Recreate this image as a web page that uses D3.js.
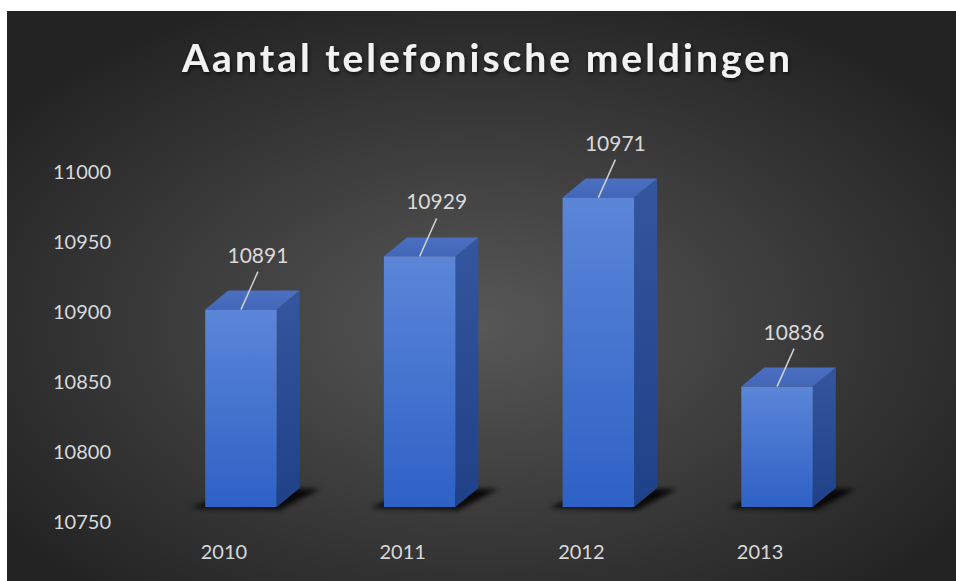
<!DOCTYPE html>
<html>
<head>
<meta charset="utf-8">
<script src="https://cdn.jsdelivr.net/npm/d3@7"></script>
<style>
  body { margin: 0; background: #fff; }
  text { font-family: Lato, "Open Sans", sans-serif; }
</style>
</head>
<body>
<svg id="chart" width="956" height="581"></svg>
<script>
const years = ["2010", "2011", "2012", "2013"];
const calls = [10891, 10929, 10971, 10836];
const yTicks = [10750, 10800, 10850, 10900, 10950, 11000];
const title = "Aantal telefonische meldingen";

const svg = d3.select('#chart');
const defs = svg.append('defs');

// background radial gradient
const bg = defs.append('radialGradient').attr('id', 'bg')
    .attr('cx', '50%').attr('cy', '55%').attr('r', '62%');
bg.append('stop').attr('offset', '0%').attr('stop-color', '#575757');
bg.append('stop').attr('offset', '100%').attr('stop-color', '#232323');

function vGrad(id, c1, c2) {
    const g = defs.append('linearGradient').attr('id', id)
        .attr('x1', 0).attr('y1', 0).attr('x2', 0).attr('y2', 1);
    g.append('stop').attr('offset', '0%').attr('stop-color', c1);
    g.append('stop').attr('offset', '100%').attr('stop-color', c2);
}
vGrad('front', '#5b86d8', '#2e61c6');
vGrad('side', '#34569f', '#1f4188');
vGrad('top', '#4b70c2', '#4267b8');

defs.append('filter').attr('id', 'blur').attr('x', '-50%').attr('y', '-50%')
    .attr('width', '200%').attr('height', '200%')
    .append('feGaussianBlur').attr('stdDeviation', 2.5);

const ts = defs.append('filter').attr('id', 'tshadow')
    .attr('x', '-10%').attr('y', '-30%').attr('width', '120%').attr('height', '160%');
ts.append('feDropShadow').attr('dx', 1).attr('dy', 2).attr('stdDeviation', 2)
    .attr('flood-color', '#000').attr('flood-opacity', 0.7);

svg.append('rect')
    .attr('x', 7).attr('y', 11).attr('width', 949).attr('height', 570)
    .attr('fill', 'url(#bg)');

// scales
const x = d3.scaleBand().domain(years).range([98, 920]).padding(0.6);
const y = d3.scaleLinear().domain([10750, 11000]).range([507, 157]);      // bar fronts
const yWall = d3.scaleLinear().domain([10750, 11000]).range([522, 172]);  // axis labels
const depth = { dx: 23, dy: -19 };
const bw = x.bandwidth();

// y axis
const yAxis = svg.append('g')
    .attr('transform', 'translate(111,0)')
    .call(d3.axisLeft(yWall).tickValues(yTicks).tickSize(0).tickPadding(0).tickFormat(d3.format('d')));
yAxis.select('.domain').remove();
yAxis.selectAll('text')
    .attr('fill', '#d9d9d9')
    .style('font-size', '20px')
    .style('font-family', 'Lato, "Open Sans", sans-serif');

// x axis (labels sit a bit left of the bar fronts, 3D projection)
const xAxis = svg.append('g')
    .attr('transform', 'translate(-17,545)')
    .call(d3.axisBottom(x).tickSize(0).tickPadding(0));
xAxis.select('.domain').remove();
xAxis.selectAll('text')
    .attr('fill', '#d9d9d9')
    .style('font-size', '20px')
    .style('font-family', 'Lato, "Open Sans", sans-serif');

const data = years.map((yr, i) => ({ year: yr, value: calls[i] }));
const base = y(10750);

const bars = svg.append('g').selectAll('g')
    .data(data)
    .join('g');

// floor shadow
bars.append('polygon')
    .attr('points', d => {
        const x0 = x(d.year);
        return [
            [x0 - 14, base + 1],
            [x0 + bw + 3, base + 3],
            [x0 + bw + depth.dx + 20, base + depth.dy + 1],
            [x0 + depth.dx + 10, base + depth.dy]
        ].join(' ');
    })
    .attr('fill', '#000')
    .attr('opacity', 0.85)
    .attr('filter', 'url(#blur)');

// side face
bars.append('polygon')
    .attr('points', d => {
        const x1 = x(d.year) + bw, t = y(d.value);
        return [[x1, t], [x1 + depth.dx, t + depth.dy], [x1 + depth.dx, base + depth.dy], [x1, base]].join(' ');
    })
    .attr('fill', 'url(#side)');

// top face
bars.append('polygon')
    .attr('points', d => {
        const x0 = x(d.year), t = y(d.value);
        return [[x0, t], [x0 + depth.dx, t + depth.dy], [x0 + bw + depth.dx, t + depth.dy], [x0 + bw, t]].join(' ');
    })
    .attr('fill', 'url(#top)');

// front face
bars.append('rect')
    .attr('x', d => x(d.year))
    .attr('y', d => y(d.value))
    .attr('width', bw)
    .attr('height', d => base - y(d.value))
    .attr('fill', 'url(#front)');

// leader lines + data labels
bars.append('line')
    .attr('x1', d => x(d.year) + bw / 2)
    .attr('y1', d => y(d.value))
    .attr('x2', d => x(d.year) + bw / 2 + 17)
    .attr('y2', d => y(d.value) - 38)
    .attr('stroke', '#d0d0d0')
    .attr('stroke-width', 1.5);

bars.append('text')
    .attr('x', d => x(d.year) + bw / 2 + 17)
    .attr('y', d => y(d.value) - 47)
    .attr('text-anchor', 'middle')
    .attr('fill', '#d9d9d9')
    .style('font-size', '21px')
    .text(d => d.value);

// title
svg.append('text')
    .attr('x', 486)
    .attr('y', 72)
    .attr('text-anchor', 'middle')
    .attr('fill', '#f2f2f2')
    .attr('filter', 'url(#tshadow)')
    .attr('textLength', 608)
    .attr('lengthAdjust', 'spacing')
    .style('font-size', '39px')
    .style('font-weight', 700)
    .text(title);
</script>
</body>
</html>
